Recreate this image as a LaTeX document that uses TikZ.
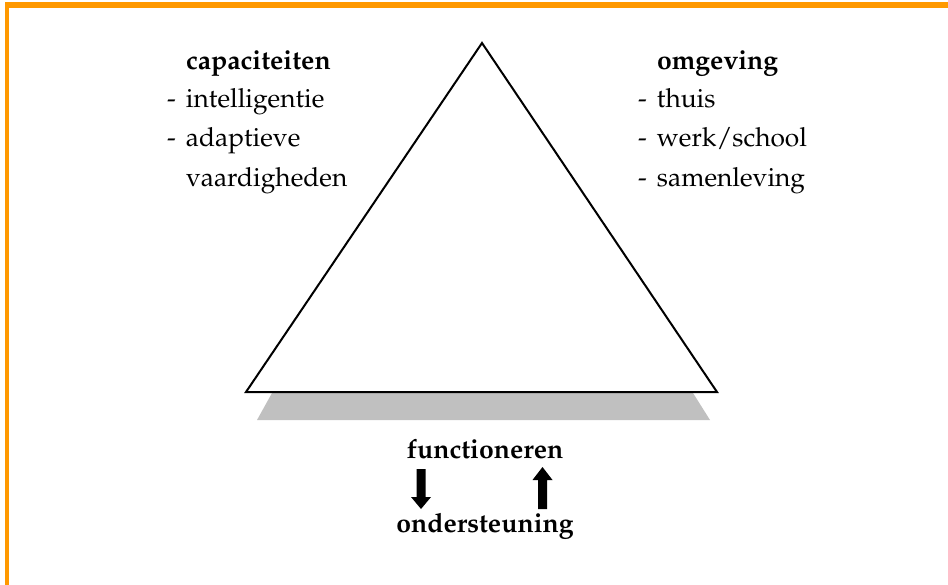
\documentclass[tikz,border=0pt]{standalone}
\usepackage[T1]{fontenc}
\usepackage{mathpazo}
\definecolor{borderorange}{RGB}{255,153,0}
\definecolor{shadowgray}{RGB}{192,192,192}
\newcommand{\dashitem}{\makebox[19pt][l]{-}}
\tikzset{
  txt/.style={anchor=base west, inner sep=0pt, outer sep=0pt, font=\fontsize{26.3}{39}\selectfont},
  btxt/.style={anchor=base west, inner sep=0pt, outer sep=0pt, font=\fontsize{26.6}{39}\selectfont\bfseries},
  ctxt/.style={anchor=base, inner sep=0pt, outer sep=0pt, font=\fontsize{26.6}{39}\selectfont\bfseries},
  blockarrow/.style={fill=black, draw=none},
}
\begin{document}
\begin{tikzpicture}[x=1pt,y=-1pt]
\useasboundingbox (0,0) rectangle (948,585);
% orange frame
\fill[borderorange] (5,2) rectangle (948,8);
\fill[borderorange] (5,2) rectangle (9,585);
% shadow
\fill[shadowgray] (272,393) -- (693,393) -- (710,420) -- (257,420) -- cycle;
% triangle
\draw[line width=2pt, fill=white, line join=miter] (482,43) -- (717,392) -- (246,392) -- cycle;
% left text
\node[btxt] (cap) at (186,70) {capaciteiten};
\node[txt] (intel) at (167,108) {\dashitem intelligentie};
\node[txt] (adapt) at (167,147) {\dashitem adaptieve};
\node[txt] (vaard) at (186,187) {vaardigheden};
% right text
\node[btxt] (omg) at (657,70) {omgeving};
\node[txt] (thuis) at (638,108) {\dashitem thuis};
\node[txt] (werk) at (638,147) {\dashitem werk/school};
\node[txt] (samen) at (638,187) {\dashitem samenleving};
% bottom
\node[ctxt] (func) at (485,458) {functioneren};
\node[ctxt] (onder) at (485,532) {ondersteuning};
% block arrows
\fill[blockarrow] (416.5,469) -- (425.5,469) -- (425.5,497) -- (431,497) -- (421,509) -- (411,497) -- (416.5,497) -- cycle;
\fill[blockarrow] (538,509) -- (547,509) -- (547,480) -- (552.5,480) -- (542.5,467) -- (532.5,480) -- (538,480) -- cycle;
\end{tikzpicture}
\end{document}
